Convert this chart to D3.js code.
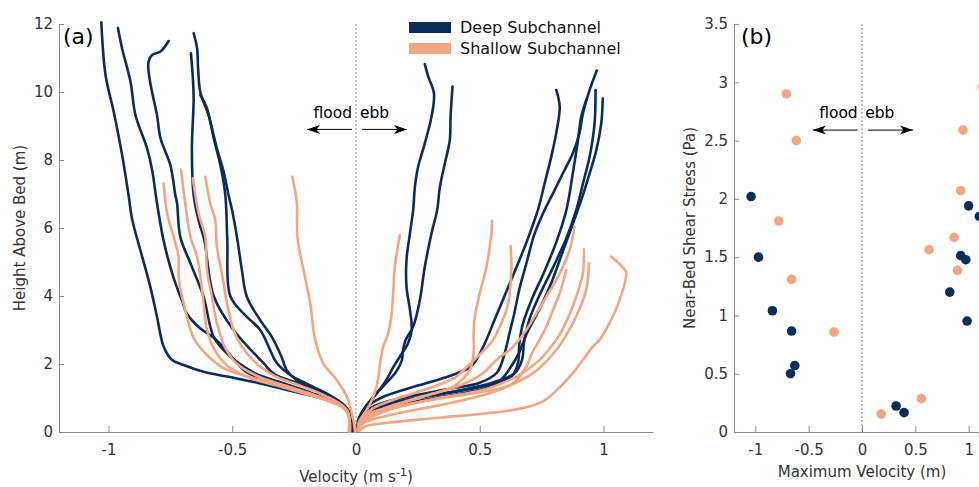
<!DOCTYPE html>
<html><head><meta charset="utf-8">
<script src="https://cdn.jsdelivr.net/npm/d3@7"></script>
<style>
body{margin:0;background:#fff;}
svg{display:block;font-family:"DejaVu Sans",sans-serif;}
.axis path,.axis line{stroke:#8a8a8a;}
.axis text{fill:#333;font-size:15px;font-family:"DejaVu Sans",sans-serif;}
</style></head><body>
<svg id="c" width="979" height="487"></svg>
<script>
// ---------- DATA ----------
const seriesNames = ["Deep Subchannel", "Shallow Subchannel"];
const xTicksA = [-1, -0.5, 0, 0.5, 1];
const yTicksA = [0, 2, 4, 6, 8, 10, 12];
const xTicksB = [-1, -0.5, 0, 0.5, 1];
const yTicksB = [0, 0.5, 1, 1.5, 2, 2.5, 3, 3.5];

// velocity profiles: [velocity (m/s), height above bed (m)]
const deepFlood = [
 [[-1.029,12.05],[-1.012,10.5],[-0.979,9.42],[-0.945,8.15],[-0.919,6.97],[-0.904,6.24],[-0.864,5.16],[-0.831,4.27],[-0.804,3.39],[-0.777,2.51],[-0.743,2.12],[-0.696,1.97],[-0.616,1.77],[-0.521,1.63],[-0.387,1.43],[-0.253,1.19],[-0.118,0.94],[-0.051,0.74],[-0.026,0.5],[-0.02,0.25],[-0.018,0.04]],
 [[-0.962,11.89],[-0.945,11.28],[-0.911,10.3],[-0.891,9.32],[-0.844,8.34],[-0.824,7.71],[-0.804,6.73],[-0.778,5.65],[-0.74,4.6],[-0.70,3.8],[-0.685,3.5],[-0.63,3.05],[-0.577,2.79],[-0.53,2.45],[-0.49,2.1],[-0.44,1.75],[-0.33,1.45],[-0.2,1.15],[-0.1,0.92],[-0.05,0.72],[-0.027,0.5],[-0.022,0.25],[-0.02,0.04]],
 [[-0.757,11.5],[-0.79,11.19],[-0.824,11.09],[-0.838,10.9],[-0.838,10.6],[-0.824,10.0],[-0.804,9.32],[-0.79,8.64],[-0.75,7.85],[-0.73,6.97],[-0.723,6.73],[-0.71,5.74],[-0.663,4.86],[-0.616,3.98],[-0.575,2.8],[-0.52,2.3],[-0.468,2.0],[-0.40,1.7],[-0.30,1.45],[-0.18,1.15],[-0.09,0.9],[-0.045,0.72],[-0.025,0.5],[-0.02,0.25],[-0.017,0.04]],
 [[-0.656,11.73],[-0.642,11.28],[-0.638,10.7],[-0.629,10.0],[-0.596,9.32],[-0.562,8.34],[-0.535,7.66],[-0.515,6.97],[-0.5,6.5],[-0.481,5.74],[-0.461,4.76],[-0.441,3.98],[-0.387,3.29],[-0.34,2.8],[-0.30,2.2],[-0.28,1.82],[-0.226,1.45],[-0.15,1.2],[-0.08,0.95],[-0.04,0.72],[-0.022,0.5],[-0.016,0.25],[-0.014,0.04]],
 [[-0.667,11.14],[-0.66,10.5],[-0.656,9.81],[-0.663,8.34],[-0.656,6.97],[-0.635,6.2],[-0.613,5.65],[-0.575,4.0],[-0.495,3.0],[-0.374,2.03],[-0.33,1.7],[-0.22,1.4],[-0.12,1.1],[-0.055,0.8],[-0.025,0.55],[-0.018,0.25],[-0.015,0.04]],
 [[-0.629,9.91],[-0.602,9.52],[-0.575,8.64],[-0.548,7.85],[-0.528,6.97],[-0.52,5.65],[-0.508,4.0],[-0.45,3.45],[-0.387,3.0],[-0.32,2.03],[-0.27,1.7],[-0.2,1.42],[-0.11,1.1],[-0.05,0.8],[-0.025,0.55],[-0.015,0.25],[-0.012,0.04]]
];
const deepEbb = [
 [[0.278,10.82],[0.292,10.45],[0.315,9.96],[0.305,9.27],[0.278,8.49],[0.251,7.8],[0.238,7.21],[0.231,6.53],[0.218,5.84],[0.204,5.06],[0.204,4.27],[0.218,3.59],[0.225,3.0],[0.21,2.6],[0.18,2.25],[0.15,1.9],[0.12,1.5],[0.08,1.1],[0.04,0.7],[0.015,0.35],[0.006,0.04]],
 [[0.39,10.16],[0.382,9.27],[0.379,8.59],[0.359,7.9],[0.339,7.21],[0.328,6.53],[0.305,5.84],[0.278,4.86],[0.258,3.88],[0.231,3.1],[0.20,2.7],[0.19,2.4],[0.185,2.1],[0.16,1.75],[0.11,1.35],[0.06,0.95],[0.025,0.6],[0.01,0.3],[0.005,0.04]],
 [[0.809,10.06],[0.823,9.57],[0.809,8.79],[0.789,8.1],[0.762,7.31],[0.735,6.53],[0.69,5.6],[0.64,4.7],[0.60,4.0],[0.56,3.3],[0.52,2.6],[0.48,2.05],[0.455,1.88],[0.36,1.6],[0.22,1.3],[0.10,1.0],[0.04,0.72],[0.012,0.42],[0.004,0.04]],
 [[0.973,10.63],[0.944,10.06],[0.917,9.37],[0.903,8.79],[0.876,8.2],[0.836,7.61],[0.796,7.02],[0.762,6.53],[0.72,5.8],[0.69,5.0],[0.66,4.2],[0.64,3.5],[0.62,2.9],[0.60,2.3],[0.57,1.75],[0.50,1.45],[0.36,1.25],[0.2,1.02],[0.08,0.78],[0.025,0.5],[0.006,0.04]],
 [[0.968,10.06],[0.964,9.08],[0.944,8.1],[0.917,7.31],[0.89,6.53],[0.85,5.7],[0.80,4.9],[0.74,4.0],[0.70,3.3],[0.68,2.7],[0.67,2.1],[0.64,1.72],[0.55,1.45],[0.40,1.2],[0.22,0.98],[0.09,0.74],[0.03,0.48],[0.008,0.04]],
 [[0.997,9.81],[0.991,9.08],[0.971,8.29],[0.944,7.61],[0.91,6.82],[0.87,6.0],[0.83,5.2],[0.79,4.4],[0.74,3.6],[0.69,2.9],[0.66,2.35],[0.62,1.85],[0.58,1.5],[0.52,1.28],[0.36,1.05],[0.18,0.82],[0.06,0.6],[0.015,0.35],[0.005,0.04]],
 [[0.93,9.76],[0.91,9.27],[0.897,8.59],[0.876,7.61],[0.85,6.53],[0.81,5.6],[0.76,4.7],[0.71,3.9],[0.675,3.2],[0.66,2.6],[0.655,2.05],[0.63,1.65],[0.52,1.35],[0.35,1.12],[0.18,0.9],[0.07,0.66],[0.02,0.4],[0.005,0.04]]
];
const shallowFlood = [
 [[-0.777,7.31],[-0.763,6.43],[-0.737,5.74],[-0.717,5.16],[-0.717,4.57],[-0.703,3.98],[-0.683,3.39],[-0.655,2.75],[-0.60,2.25],[-0.54,1.9],[-0.47,1.7],[-0.30,1.38],[-0.093,0.86],[-0.037,0.65],[-0.026,0.35],[-0.024,0.02]],
 [[-0.707,7.71],[-0.69,6.73],[-0.669,5.74],[-0.642,5.16],[-0.629,4.57],[-0.616,3.79],[-0.602,3.0],[-0.57,2.4],[-0.52,1.95],[-0.44,1.62],[-0.3,1.32],[-0.15,1.0],[-0.06,0.75],[-0.03,0.5],[-0.025,0.02]],
 [[-0.659,7.46],[-0.636,6.43],[-0.609,5.74],[-0.602,4.76],[-0.582,3.98],[-0.562,3.2],[-0.53,2.5],[-0.48,2.0],[-0.40,1.65],[-0.28,1.35],[-0.14,1.02],[-0.055,0.75],[-0.03,0.5],[-0.028,0.02]],
 [[-0.609,7.51],[-0.589,6.73],[-0.569,6.24],[-0.562,5.45],[-0.542,4.67],[-0.521,3.79],[-0.495,3.0],[-0.46,2.5],[-0.40,2.0],[-0.33,1.65],[-0.22,1.35],[-0.12,1.05],[-0.05,0.75],[-0.03,0.5],[-0.03,0.02]],
 [[-0.257,7.51],[-0.239,6.73],[-0.237,5.74],[-0.212,4.76],[-0.185,3.79],[-0.165,2.71],[-0.132,2.02],[-0.078,1.53],[-0.037,1.04],[-0.011,0.35],[-0.004,0.01]]
];
const shallowEbb = [
 [[0.177,5.79],[0.157,4.86],[0.151,4.18],[0.144,3.5],[0.13,2.9],[0.11,2.51],[0.097,2.0],[0.09,1.6],[0.08,1.25],[0.065,0.95],[0.043,0.65],[0.016,0.35],[0.008,0.05]],
 [[0.55,6.21],[0.547,5.84],[0.527,4.86],[0.5,4.08],[0.48,3.39],[0.475,2.8],[0.476,2.41],[0.46,1.82],[0.43,1.55],[0.392,1.33],[0.271,1.04],[0.137,0.74],[0.043,0.5],[0.012,0.2],[0.006,0.04]],
 [[0.625,5.47],[0.628,4.86],[0.621,4.08],[0.608,3.59],[0.581,3.1],[0.554,2.71],[0.51,2.35],[0.46,2.0],[0.40,1.6],[0.30,1.3],[0.18,1.02],[0.07,0.7],[0.02,0.35],[0.006,0.04]],
 [[0.883,6.04],[0.863,5.35],[0.836,4.86],[0.809,4.47],[0.769,3.98],[0.729,3.49],[0.688,3.0],[0.634,2.5],[0.567,2.12],[0.513,1.73],[0.406,1.33],[0.27,1.05],[0.097,0.65],[0.016,0.35],[0.008,0.05]],
 [[0.85,4.76],[0.823,4.08],[0.796,3.59],[0.769,3.1],[0.742,2.71],[0.71,2.3],[0.688,1.92],[0.634,1.43],[0.54,1.14],[0.339,0.79],[0.137,0.5],[0.03,0.26],[0.01,0.05]],
 [[0.921,5.37],[0.917,4.67],[0.895,4.1],[0.876,3.69],[0.84,3.1],[0.809,2.71],[0.742,2.12],[0.648,1.63],[0.52,1.25],[0.3,0.95],[0.12,0.62],[0.03,0.3],[0.01,0.05]],
 [[0.941,4.96],[0.93,4.18],[0.876,3.2],[0.809,2.41],[0.715,1.73],[0.60,1.32],[0.35,1.0],[0.15,0.72],[0.04,0.4],[0.01,0.05]],
 [[1.031,5.16],[1.091,4.71],[1.091,4.57],[1.065,3.88],[1.024,3.2],[0.984,2.71],[0.957,2.51],[0.876,1.73],[0.80,1.15],[0.755,0.9],[0.70,0.75],[0.608,0.62],[0.339,0.42],[0.137,0.28],[0.04,0.17],[0.016,0.05]]
];

// panel (b) scatter: maximum velocity vs near-bed shear stress
const deepMaxVel   = [-1.04,-0.97,-0.84,-0.66,-0.63,-0.67,1.0,1.10,0.926,0.973,0.823,0.985,0.32,0.394];
const deepStress   = [2.02,1.50,1.04,0.866,0.57,0.50,1.94,1.85,1.513,1.478,1.20,0.952,0.223,0.166];
const shallowMaxVel = [-0.709,-0.615,-0.78,-0.66,-0.263,1.13,0.947,0.926,0.863,0.629,0.895,0.557,0.18];
const shallowStress = [2.90,2.50,1.81,1.31,0.858,2.96,2.59,2.07,1.67,1.564,1.387,0.286,0.154];

const navy = "#0a2d5e", salmon = "#f4a582";

// ---------- DRAW ----------
const svg = d3.select("#c");
const xA = d3.scaleLinear().domain([-1.2, 1.2]).range([59, 653]);
const yA = d3.scaleLinear().domain([0, 12]).range([432, 24]);
const xB = d3.scaleLinear().domain([-1.2, 1.2]).range([734, 990]);
const yB = d3.scaleLinear().domain([0, 3.5]).range([432, 24]);
const fmt = d => String(d);

svg.append("defs").append("marker")
  .attr("id","ah").attr("viewBox","-14 -6 16 12").attr("refX",0).attr("refY",0)
  .attr("markerWidth",16).attr("markerHeight",12).attr("markerUnits","userSpaceOnUse")
  .attr("orient","auto")
  .append("path").attr("d","M0,0 L-13,-4.5 L-9.5,0 L-13,4.5 Z").attr("fill","#000");

function axes(x, y, xt, yt) {
  const gx = svg.append("g").attr("class","axis").attr("transform",`translate(0,${y.range()[0]})`)
    .call(d3.axisBottom(x).tickValues(xt).tickFormat(fmt).tickSizeInner(-6).tickSizeOuter(0).tickPadding(12));
  const gy = svg.append("g").attr("class","axis").attr("transform",`translate(${x.range()[0]},0)`)
    .call(d3.axisLeft(y).tickValues(yt).tickFormat(fmt).tickSizeInner(-5).tickSizeOuter(0).tickPadding(6));
  svg.append("line").attr("x1",x(0)).attr("x2",x(0)).attr("y1",y.range()[1]).attr("y2",y.range()[0])
    .attr("stroke","#8a8a8a").attr("stroke-width",1).attr("stroke-dasharray","2,2");
}
axes(xA, yA, xTicksA, yTicksA);
axes(xB, yB, xTicksB, yTicksB);

const line = d3.line().x(d => xA(d[0])).y(d => yA(d[1])).curve(d3.curveCatmullRom.alpha(0.5));
const gl = svg.append("g").attr("fill","none").attr("stroke-width",2.6).attr("stroke-linecap","round").attr("stroke-linejoin","round");
gl.selectAll(".dp").data(deepFlood.concat(deepEbb)).join("path").attr("d",line).attr("stroke",navy);
gl.selectAll(".sp").data(shallowFlood.concat(shallowEbb)).join("path").attr("d",line).attr("stroke",salmon);

// scatter
const sg = svg.append("g");
sg.selectAll(".s").data(d3.range(shallowMaxVel.length)).join("circle")
  .attr("cx",i => xB(shallowMaxVel[i])).attr("cy",i => yB(shallowStress[i])).attr("r",4.8).attr("fill",salmon);
sg.selectAll(".d").data(d3.range(deepMaxVel.length)).join("circle")
  .attr("cx",i => xB(deepMaxVel[i])).attr("cy",i => yB(deepStress[i])).attr("r",4.8).attr("fill",navy);

// flood / ebb annotations
function floodEbb(x, y, hy, tyv, l1, l2, r1, r2, ebbX) {
  svg.append("text").attr("x",x(l1)).attr("y",y(tyv)).attr("text-anchor","end").attr("font-size",15.5).attr("fill","#000").text("flood");
  svg.append("text").attr("x",x(ebbX)).attr("y",y(tyv)).attr("font-size",15.5).attr("fill","#000").text("ebb");
  svg.append("line").attr("x1",x(l1)).attr("x2",x(l2)).attr("y1",y(hy)).attr("y2",y(hy)).attr("stroke","#000").attr("stroke-width",1).attr("marker-end","url(#ah)");
  svg.append("line").attr("x1",x(r1)).attr("x2",x(r2)).attr("y1",y(hy)).attr("y2",y(hy)).attr("stroke","#000").attr("stroke-width",1).attr("marker-end","url(#ah)");
}
floodEbb(xA, yA, 8.9, 9.25, -0.016, -0.198, 0.024, 0.206, 0.016);
floodEbb(xB, yB, 2.59, 2.69, -0.04, -0.46, 0.056, 0.478, 0.03);

// panel labels
svg.append("text").attr("x",63).attr("y",44).attr("font-size",22).attr("fill","#000").text("(a)");
svg.append("text").attr("x",741).attr("y",44).attr("font-size",22).attr("fill","#000").text("(b)");

// axis titles
svg.append("text").attr("transform",`translate(25,${(yA.range()[0]+yA.range()[1])/2}) rotate(-90)`)
  .attr("text-anchor","middle").attr("font-size",15).attr("fill","#333").text("Height Above Bed (m)");
const vt = svg.append("text").attr("x",xA(0)).attr("y",482).attr("text-anchor","middle").attr("font-size",15).attr("fill","#333");
vt.append("tspan").text("Velocity (m s");
vt.append("tspan").attr("dy",-6).attr("font-size",11).text("-1");
vt.append("tspan").attr("dy",6).text(")");
svg.append("text").attr("transform",`translate(695,${(yB.range()[0]+yB.range()[1])/2}) rotate(-90)`)
  .attr("text-anchor","middle").attr("font-size",15).attr("fill","#333").text("Near-Bed Shear Stress (Pa)");
svg.append("text").attr("x",xB(0)).attr("y",477).attr("text-anchor","middle").attr("font-size",15).attr("fill","#333").text("Maximum Velocity (m)");

// legend
const lg = svg.append("g");
[navy, salmon].forEach((c, i) => {
  lg.append("rect").attr("x",409).attr("y",22 + i*21).attr("width",42).attr("height",11).attr("fill",c);
  lg.append("text").attr("x",460).attr("y",33 + i*21).attr("font-size",16).attr("fill","#111").text(seriesNames[i]);
});
</script></body></html>
